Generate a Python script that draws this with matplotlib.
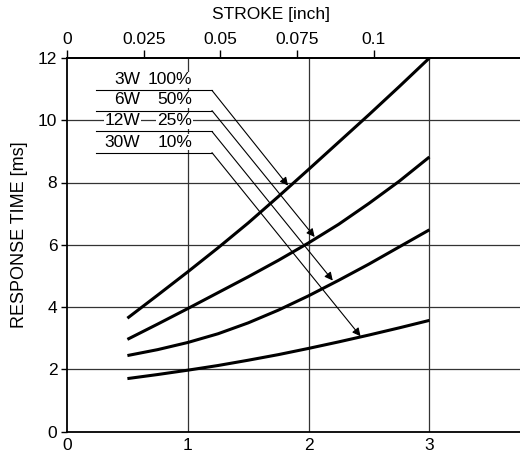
import numpy as np
import matplotlib
matplotlib.use("Agg")
import matplotlib.pyplot as plt

plt.rcParams['font.family'] = ['Liberation Sans', 'DejaVu Sans']

# stroke [mm] and response time [ms]
stroke_mm = [0.5, 0.75, 1.0, 1.25, 1.5, 1.75, 2.0, 2.25, 2.5, 2.75, 3.0]
t_3w = [3.64, 4.38, 5.13, 5.9, 6.7, 7.55, 8.42, 9.3, 10.18, 11.08, 12.0]
t_6w = [2.96, 3.45, 3.95, 4.46, 4.97, 5.5, 6.06, 6.66, 7.33, 8.04, 8.82]
t_12w = [2.44, 2.63, 2.86, 3.14, 3.49, 3.9, 4.36, 4.86, 5.38, 5.93, 6.48]
t_30w = [1.70, 1.83, 1.97, 2.12, 2.29, 2.47, 2.67, 2.88, 3.10, 3.33, 3.57]

watts = ['3W', '6W', '12W', '30W']
duty = ['100%', '50%', '25%', '10%']
# label rows and arrow tips (data coords)
label_y = [10.96, 10.31, 9.64, 8.96]
tips = [(1.83, 7.9), (2.05, 6.25), (2.20, 4.85), (2.43, 3.06)]

inch_ticks = [0, 0.025, 0.05, 0.075, 0.1]
inch_labels = ['0', '0.025', '0.05', '0.075', '0.1']

fig = plt.figure(figsize=(5.2, 4.59), dpi=100)
ax = fig.add_axes([67/520, 27.5/459, 453/520, 373.5/459])

for t in [t_3w, t_6w, t_12w, t_30w]:
    ax.plot(stroke_mm, t, color='black', lw=2.2, solid_capstyle='butt', zorder=3)

ax.set_xlim(0, 3.75)
ax.set_ylim(0, 12)
ax.set_xticks([0, 1, 2, 3])
ax.set_xticklabels(['0', '1', '2', '3'])
ax.set_yticks(range(0, 13, 2))
ax.tick_params(axis='x', length=0, pad=5, labelsize=12.5)
ax.tick_params(axis='y', length=4, width=1, direction='out', pad=3, labelsize=12.5)
for v in [1, 2, 3]:
    ax.axvline(v, color='#333333', lw=0.9, zorder=1)
for v in [2, 4, 6, 8, 10]:
    ax.axhline(v, color='#333333', lw=0.9, zorder=1)
ax.spines['right'].set_visible(False)
for s in ['left', 'bottom', 'top']:
    ax.spines[s].set_linewidth(1.3)

sec = ax.secondary_xaxis('top', functions=(lambda x: x / 25.4, lambda x: x * 25.4))
sec.set_xticks(inch_ticks)
sec.set_xticklabels(inch_labels)
sec.tick_params(length=6, width=1, direction='out', pad=2, labelsize=12.5)
sec.spines['top'].set_linewidth(1.3)

# labels with leader lines and arrows
for w, d, y, tip in zip(watts, duty, label_y, tips):
    ax.plot([0.24, 1.20], [y, y], color='black', lw=0.8, zorder=2)
    ax.annotate('', xy=tip, xytext=(1.20, y),
                arrowprops=dict(arrowstyle='-|>', color='black', lw=0.8,
                                mutation_scale=12, shrinkA=0, shrinkB=0),
                zorder=4)
    bb = dict(fc='white', ec='none', pad=0.5)
    ax.text(0.604, y + 0.1, w, ha='right', va='bottom', fontsize=12.5, bbox=bb, zorder=2.5)
    ax.text(1.035, y + 0.1, d, ha='right', va='bottom', fontsize=12.5, bbox=bb, zorder=2.5)

fig.text(271/520, 1 - 15/459, 'STROKE [inch]', ha='center', va='center', fontsize=12.5)
fig.text(20/520, 1 - 235/459, 'RESPONSE TIME [ms]', ha='center', va='center',
         rotation=90, fontsize=13)

fig.savefig('out.png', dpi=100)
